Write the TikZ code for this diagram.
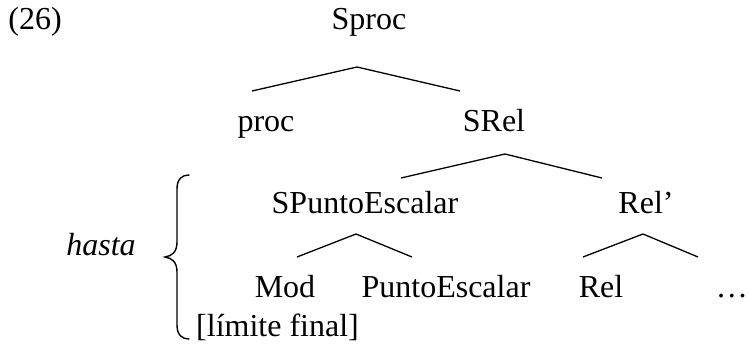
\documentclass[tikz,border=0pt]{standalone}
\usepackage{fontspec}
\setmainfont{Liberation Serif}
\begin{document}
\begin{tikzpicture}[x=1pt,y=-1pt,
  lbl/.style={anchor=base,inner sep=0pt,font=\fontsize{32}{38}\selectfont},
  branch/.style={line width=1.3pt}]
\path[use as bounding box] (0,0) rectangle (749,345);
% labels
\node[lbl] (ex) at (35,30) {(26)};
\node[lbl] (sproc) at (369,30) {Sproc};
\node[lbl] (proc) at (266,131) {proc};
\node[lbl] (srel) at (494,131) {SRel};
\node[lbl] (spe) at (365,213) {SPuntoEscalar};
\node[lbl] (relp) at (646,213) {Rel’};
\node[lbl] (mod) at (285,297) {Mod};
\node[lbl] (pe) at (446,297) {PuntoEscalar};
\node[lbl] (rel) at (601,297) {Rel};
\node[lbl,anchor=base east] (dots) at (748,297) {…};
\node[lbl] (hasta) at (101,255) {\itshape hasta};
\node[lbl,anchor=base west] (limite) at (196,336) {[límite final]};
% branch points
\coordinate (a1) at (357,67);
\coordinate (a1l) at (252,91);
\coordinate (a1r) at (460,91);
\coordinate (a2) at (505,154);
\coordinate (a2l) at (401,178);
\coordinate (a2r) at (602,178);
\coordinate (a3) at (356,234);
\coordinate (a3l) at (297,257);
\coordinate (a3r) at (412,257);
\coordinate (a4) at (643,234);
\coordinate (a4l) at (583,257);
\coordinate (a4r) at (698,257);
\draw[branch] (a1l) -- (a1) -- (a1r);
\draw[branch] (a2l) -- (a2) -- (a2r);
\draw[branch] (a3l) -- (a3) -- (a3r);
\draw[branch] (a4l) -- (a4) -- (a4r);
% brace
\coordinate (bt) at (189,175);
\coordinate (bm) at (165,257);
\coordinate (bb) at (189,339);
\draw[line width=1.4pt,line cap=round]
  (bt) .. controls (182,175) and (177,179) .. (177,189)
  -- (177,242) .. controls (177,252) and (172,256) .. (bm)
  .. controls (172,258) and (177,262) .. (177,272)
  -- (177,325) .. controls (177,335) and (182,339) .. (bb);
\end{tikzpicture}
\end{document}
